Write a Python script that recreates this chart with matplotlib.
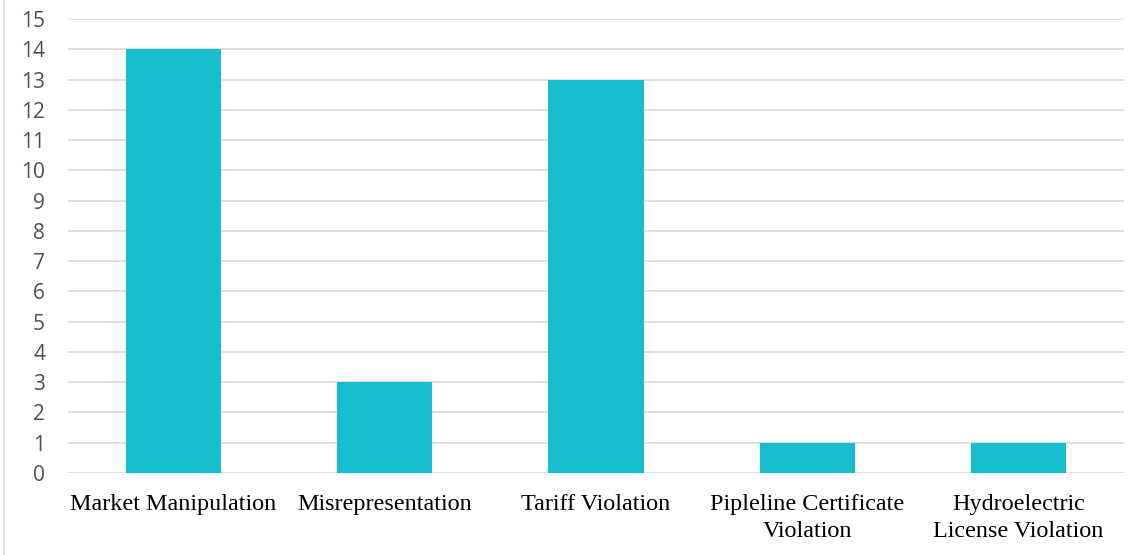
import matplotlib
matplotlib.use("Agg")
import matplotlib.pyplot as plt
from matplotlib.lines import Line2D

categories = [
    "Market Manipulation",
    "Misrepresentation",
    "Tariff Violation",
    "Pipleline Certificate\nViolation",
    "Hydroelectric\nLicense Violation",
]
counts = [14, 3, 13, 1, 1]
y_ticks = list(range(0, 16))

fig = plt.figure(figsize=(11.43, 5.55), dpi=100)
ax = fig.add_axes([68 / 1143, 1 - 473 / 555, (1124 - 68) / 1143, (473 - 19) / 555])

x = range(len(categories))
ax.bar(x, counts, width=0.45, color="#17BECF", zorder=3)

ax.set_xlim(-0.5, len(categories) - 0.5)
ax.set_ylim(0, 15)
ax.set_yticks(y_ticks)
ax.set_yticklabels([str(v) for v in y_ticks], fontfamily="Open Sans",
                   fontsize=15, color="#505050")
ax.set_xticks(list(x))
ax.set_xticklabels(categories, fontfamily="Liberation Serif", fontsize=17.4,
                   color="black", linespacing=1.4)

ax.yaxis.grid(True, color="#d9d9d9", linewidth=1.2, zorder=0)
ax.tick_params(axis="both", length=0)
ax.tick_params(axis="y", pad=16.5)
ax.tick_params(axis="x", pad=14.8)
for s in ax.spines.values():
    s.set_visible(False)

# chart frame edge on the left
fig.add_artist(Line2D([3.5 / 1143, 3.5 / 1143], [0, 1], color="#d9d9d9",
                      linewidth=1.2, transform=fig.transFigure))

fig.savefig("out.png", dpi=100)
